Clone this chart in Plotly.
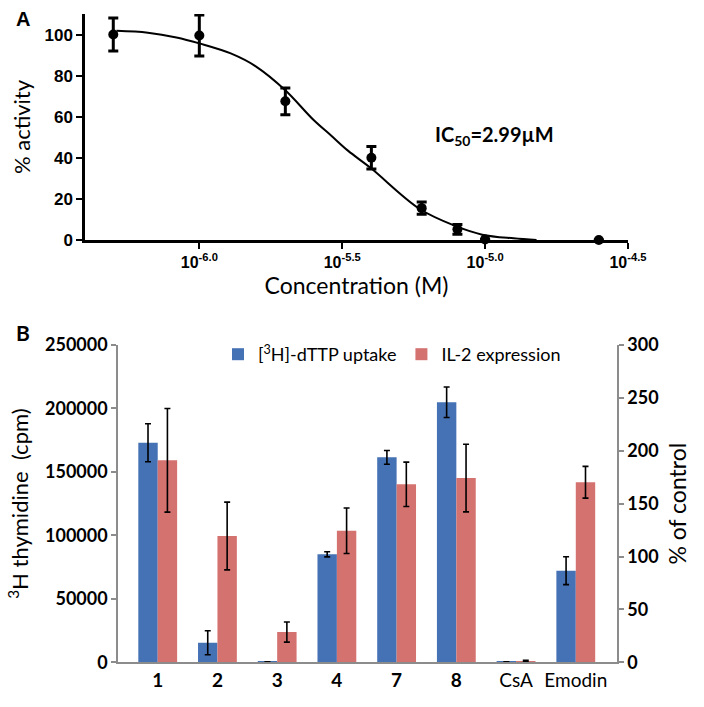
import plotly.graph_objects as go

# ---------- Panel A data ----------
conc_M = [0.5e-6, 1e-6, 2e-6, 4e-6, 6e-6, 8e-6, 1e-5, 2.5e-5]
activity = [100, 99.5, 67.5, 40, 15.5, 5.2, 0.3, 0]
activity_err = [8, 10, 6.5, 5.5, 3, 2.4, 0, 0]

curve_logM = [-6.29, -6.18, -6.08, -6.0, -5.89, -5.80, -5.70, -5.60, -5.54,
              -5.48, -5.40, -5.23, -5.10, -5.01, -4.90, -4.82]
curve_activity = [101.8, 100.9, 98.6, 95.7, 90.8, 84.3, 73.0, 58.4, 51.0,
                  43.5, 35.0, 15.2, 6.6, 2.6, 0.8, 0.0]

a_tickvals_log = [-6.0, -5.5, -5.0, -4.5]
a_ticktext = ["10<sup>-6.0</sup>", "10<sup>-5.5</sup>", "10<sup>-5.0</sup>", "10<sup>-4.5</sup>"]

# ---------- Panel B data ----------
compounds = ["1", "2", "3", "4", "7", "8", "CsA", "Emodin"]
compound_labels = ["<b>1</b>", "<b>2</b>", "<b>3</b>", "<b>4</b>", "<b>7</b>", "<b>8</b>", "CsA", "Emodin"]
thymidine_cpm = [173000, 15400, 300, 85100, 161500, 204900, 400, 72200]
thymidine_err = [15000, 9500, 0, 2000, 5400, 12000, 0, 11000]
il2_pct = [191, 119.4, 28.6, 124.4, 168.3, 174.2, 1.0, 170.2]
il2_err = [49, 32, 9.5, 21.5, 21, 32, 0.8, 15]

BLUE = "#4571B5"
RED = "#D4726F"
CAL = "Lato, 'Open Sans', sans-serif"
ARIAL = "'Liberation Sans', Arial, sans-serif"

fig = go.Figure()

# Panel A fitted curve
fig.add_trace(go.Scatter(
    x=[10 ** v for v in curve_logM], y=curve_activity, mode="lines",
    line=dict(color="black", width=2, shape="spline"),
    xaxis="x", yaxis="y", showlegend=False, cliponaxis=False))
# Panel A points
fig.add_trace(go.Scatter(
    x=conc_M, y=activity, mode="markers",
    marker=dict(color="black", size=10),
    error_y=dict(type="data", array=activity_err, color="black", thickness=3, width=5),
    xaxis="x", yaxis="y", showlegend=False, cliponaxis=False))

# Panel B bars
fig.add_trace(go.Bar(
    x=compounds, y=thymidine_cpm, name="[<sup>3</sup>H]-dTTP uptake",
    marker=dict(color=BLUE, line=dict(width=0)),
    width=0.325, offset=-0.325,
    error_y=dict(type="data", array=thymidine_err, color="black", thickness=1.6, width=3),
    xaxis="x2", yaxis="y2"))
fig.add_trace(go.Bar(
    x=compounds, y=il2_pct, name="IL-2 expression",
    marker=dict(color=RED, line=dict(width=0)),
    width=0.325, offset=0,
    error_y=dict(type="data", array=il2_err, color="black", thickness=1.6, width=3),
    xaxis="x2", yaxis="y3"))

H = 707.0
W = 704.0

fig.update_layout(
    width=704, height=707,
    margin=dict(l=0, r=0, t=0, b=0, autoexpand=False),
    paper_bgcolor="white", plot_bgcolor="white",
    font=dict(family=CAL, color="black"),
    hovermode=False,
    showlegend=True,
    legend=dict(orientation="h", x=218 / W, y=1 - 336 / H, xanchor="left", yanchor="top",
                font=dict(family=CAL, size=18, color="black"),
                bgcolor="rgba(0,0,0,0)", itemwidth=30, traceorder="normal"),
    xaxis=dict(type="log", domain=[85 / W, 628 / W], anchor="y", automargin=False,
               range=[-6.4, -4.5],
               tickvals=[10 ** v for v in a_tickvals_log], ticktext=a_ticktext,
               showline=True, linecolor="black", linewidth=2.5,
               ticks="outside", ticklen=6, tickwidth=2, tickcolor="black",
               showgrid=False, zeroline=False,
               tickfont=dict(family=ARIAL, size=16, color="black", weight="bold"),
               title=dict(text="Concentration (M)", font=dict(family=CAL, size=23), standoff=6)),
    yaxis=dict(domain=[1 - 240 / H, 1 - 14 / H], anchor="x", automargin=False,
               range=[0, 110], tickvals=[0, 20, 40, 60, 80, 100],
               showline=True, linecolor="black", linewidth=2.5,
               ticks="outside", ticklen=6, tickwidth=2, tickcolor="black",
               showgrid=False, zeroline=False,
               tickfont=dict(family=ARIAL, size=17, color="black", weight="bold"),
               title=dict(text="% activity", font=dict(family=CAL, size=22), standoff=8)),
    xaxis2=dict(domain=[118 / W, 617 / W], anchor="y2", type="category", automargin=False,
                range=[-0.665, 7.69],
                tickvals=compounds, ticktext=compound_labels,
                showline=True, linecolor="#8C8C8C", linewidth=1.5,
                ticks="", showgrid=False, zeroline=False,
                tickfont=dict(family=CAL, size=19, color="black")),
    yaxis2=dict(domain=[1 - 662.3 / H, 1 - 345 / H], anchor="x2", automargin=False,
                range=[0, 250000], dtick=50000, tickformat="d",
                showline=True, linecolor="#8C8C8C", linewidth=1.5,
                ticks="outside", ticklen=5, tickwidth=1.5, tickcolor="#8C8C8C",
                showgrid=False, zeroline=False,
                tickfont=dict(family=CAL, size=18, color="black", weight="bold"),
                title=dict(text="<sup>3</sup>H thymidine\u00a0\u00a0(cpm)",
                           font=dict(family=CAL, size=22), standoff=10)),
    yaxis3=dict(overlaying="y2", side="right", anchor="x2", automargin=False,
                range=[0, 300], dtick=50,
                showline=True, linecolor="#8C8C8C", linewidth=1.5,
                ticks="outside", ticklen=5, tickwidth=1.5, tickcolor="#8C8C8C",
                showgrid=False, zeroline=False,
                tickfont=dict(family=CAL, size=18, color="black", weight="bold"),
                title=dict(text="% of control", font=dict(family=CAL, size=23), standoff=12)),
    annotations=[
        dict(text="<b>A</b>", x=14 / W, y=1 - 6 / H, xref="paper", yref="paper",
             xanchor="left", yanchor="top", showarrow=False,
             font=dict(family=ARIAL, size=20, color="black")),
        dict(text="<b>B</b>", x=14 / W, y=1 - 318 / H, xref="paper", yref="paper",
             xanchor="left", yanchor="top", showarrow=False,
             font=dict(family=CAL, size=21, color="black")),
        dict(text="<b>IC<sub>50</sub>=2.99µM</b>", x=433 / W, y=1 - 135 / H,
             xref="paper", yref="paper", xanchor="left", yanchor="middle",
             showarrow=False, font=dict(family=CAL, size=20, color="black")),
    ],
)

fig.write_html("out.html", config={"displayModeBar": False},
               post_script="document.body.style.margin='0px';")
